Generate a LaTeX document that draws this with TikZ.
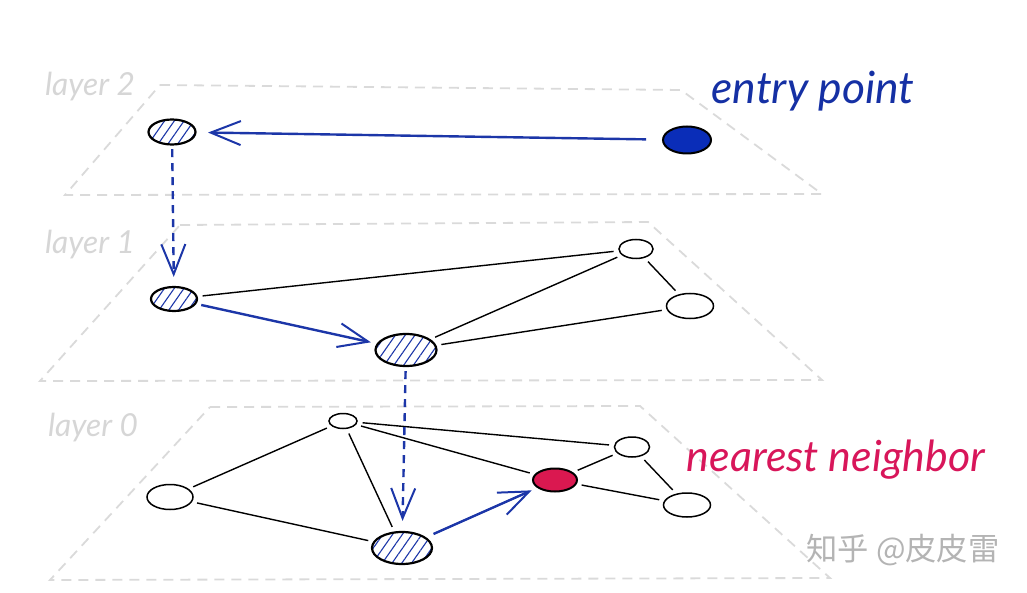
\documentclass[tikz,border=0pt]{standalone}
\usepackage{fontspec}
\setmainfont{Lato}
\newfontfamily\cjk{Noto Sans CJK SC}
\usetikzlibrary{shapes.geometric,arrows.meta,patterns.meta}
\definecolor{laycol}{HTML}{DADADA}
\definecolor{laytext}{HTML}{D6D6D6}
\definecolor{arrblue}{HTML}{1C36A8}
\definecolor{entryfill}{HTML}{0A2DB8}
\definecolor{entrytext}{HTML}{1530A4}
\definecolor{nnfill}{HTML}{DA1850}
\definecolor{nntext}{HTML}{D8165A}
\definecolor{wmcol}{HTML}{B4B4B4}
\newcommand{\fitw}[2]{\resizebox{#1}{!}{#2}}
\begin{document}
\begin{tikzpicture}[x=1pt,y=-1pt,
  layer/.style={draw=laycol, line width=1.8pt, dash pattern=on 10pt off 7pt},
  laylabel/.style={text=laytext, inner sep=0pt},
  plain/.style={ellipse, draw=black, line width=1.5pt, fill=white, inner sep=0pt},
  hnode/.style={ellipse, draw=black, line width=2.2pt, inner sep=0pt,
     pattern={Lines[angle=55,distance=8pt,line width=1.1pt]}, pattern color=arrblue},
  entrynode/.style={ellipse, draw=black, line width=2pt, fill=entryfill, inner sep=0pt},
  nnnode/.style={ellipse, draw=black, line width=2pt, fill=nnfill, inner sep=0pt},
  edge/.style={draw=black, line width=1.4pt, shorten <=5pt, shorten >=5pt},
  walk/.style={draw=arrblue, line width=2.4pt, -{Straight Barb[length=30pt,width=24pt,line width=2pt]}},
  dwalk/.style={walk, dash pattern=on 8pt off 6pt},
]
\useasboundingbox (0,0) rectangle (1027,593);

% layers
\draw[layer] (160,85) -- (681,90) -- (822,194) -- (65,195) -- cycle;
\draw[layer] (180,225) -- (648,222) -- (822,380) -- (40,381) -- cycle;
\draw[layer] (210,407) -- (640,406) -- (830,578) -- (50,580) -- cycle;

\node[laylabel] (l2) at (90,87) {\fitw{90pt}{\itshape layer 2}};
\node[laylabel] (l1) at (90,245) {\fitw{90pt}{\itshape layer 1}};
\node[laylabel] (l0) at (93,428) {\fitw{90pt}{\itshape layer 0}};

% layer 2 nodes
\node[hnode, minimum width=47pt, minimum height=25pt] (a2) at (172,132) {};
\node[entrynode, minimum width=48pt, minimum height=27pt] (ep) at (687,140) {};

% layer 1 nodes
\node[hnode, minimum width=46pt, minimum height=24pt] (b1) at (174,299) {};
\node[hnode, minimum width=61pt, minimum height=32pt] (b2) at (406,350) {};
\node[plain, minimum width=34pt, minimum height=19pt] (b3) at (636,249) {};
\node[plain, minimum width=47pt, minimum height=25pt] (b4) at (690,306) {};

% layer 0 nodes
\node[plain, minimum width=28pt, minimum height=15pt] (c1) at (343,421) {};
\node[plain, minimum width=46pt, minimum height=25pt] (c2) at (170,497) {};
\node[hnode, minimum width=60pt, minimum height=32pt] (c3) at (402,548) {};
\node[nnnode, minimum width=44pt, minimum height=23pt] (c4) at (555,480) {};
\node[plain, minimum width=35pt, minimum height=20pt] (c5) at (632,447) {};
\node[plain, minimum width=47pt, minimum height=24pt] (c6) at (687,505) {};

% edges layer 1
\draw[edge] (b1) -- (b3);
\draw[edge] (b2) -- (b3);
\draw[edge] (b2) -- (b4);
\draw[edge] (b3) -- (b4);

% edges layer 0
\draw[edge] (c1) -- (c2);
\draw[edge] (c2) -- (c3);
\draw[edge] (c1) -- (c3);
\draw[edge] (c1) -- (c4);
\draw[edge] (c1) -- (c5);
\draw[edge] (c4) -- (c5);
\draw[edge] (c4) -- (c6);
\draw[edge] (c5) -- (c6);

% search walk
\draw[walk, shorten <=16pt, shorten >=12pt] (ep) -- (a2);
\draw[dwalk, shorten <=4pt, shorten >=9pt] (a2) -- (b1);
\draw[walk, shorten <=5pt, shorten >=6pt] (b1) -- (b2);
\draw[dwalk, shorten <=4pt, shorten >=10pt] (b2) -- (c3);
\draw[walk, shorten <=8pt, shorten >=6pt] (c3) -- (c4);

% labels
\node[text=entrytext, inner sep=0pt] (eplabel) at (813,91) {\fitw{203pt}{\itshape entry point}};
\node[text=nntext, inner sep=0pt] (nnlabel) at (836,460) {\fitw{298pt}{\itshape nearest neighbor}};
\node[text=wmcol, inner sep=0pt] (wm) at (903,550) {\fitw{193pt}{\cjk 知乎 @皮皮雷}};
\end{tikzpicture}
\end{document}
